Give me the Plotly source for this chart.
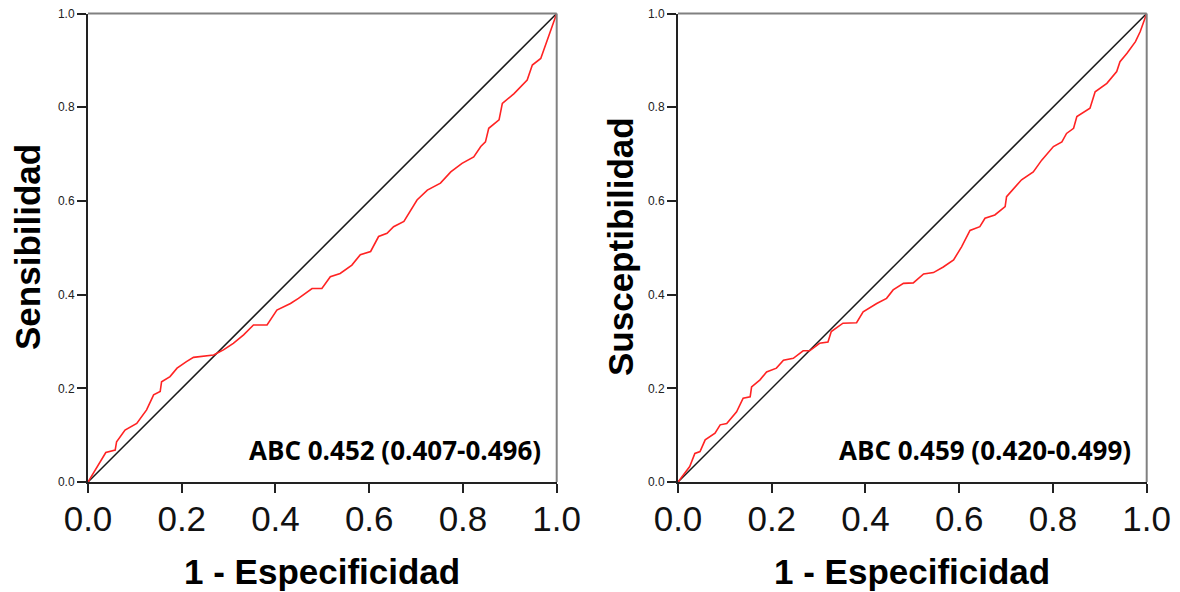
import plotly.graph_objects as go

# Left panel: 1 - Especificidad vs Sensibilidad
left_fpr = [0.0, 0.026, 0.038, 0.058, 0.061, 0.079, 0.104, 0.125, 0.14, 0.154, 0.157, 0.175,
            0.19, 0.21, 0.225, 0.268, 0.289, 0.31, 0.332, 0.353, 0.382, 0.403, 0.432, 0.449,
            0.478, 0.499, 0.517, 0.538, 0.563, 0.581, 0.603, 0.620, 0.638, 0.652, 0.674, 0.702,
            0.724, 0.752, 0.774, 0.798, 0.823, 0.838, 0.848, 0.855, 0.877, 0.884, 0.909, 0.937,
            0.948, 0.966, 0.980, 0.991, 1.0]
left_tpr = [0.0, 0.043, 0.063, 0.068, 0.086, 0.111, 0.125, 0.154, 0.186, 0.193, 0.214, 0.225,
            0.243, 0.257, 0.266, 0.271, 0.282, 0.296, 0.314, 0.335, 0.335, 0.367, 0.381, 0.392,
            0.413, 0.413, 0.438, 0.445, 0.463, 0.485, 0.492, 0.524, 0.531, 0.545, 0.556, 0.602,
            0.623, 0.638, 0.662, 0.680, 0.694, 0.716, 0.726, 0.755, 0.773, 0.808, 0.829, 0.858,
            0.890, 0.904, 0.943, 0.972, 1.0]

# Right panel: 1 - Especificidad vs Susceptibilidad
right_fpr = [0.0, 0.025, 0.036, 0.047, 0.058, 0.079, 0.09, 0.104, 0.125, 0.139, 0.154, 0.157,
             0.175, 0.189, 0.21, 0.225, 0.246, 0.267, 0.281, 0.302, 0.32, 0.327, 0.352, 0.381,
             0.395, 0.424, 0.445, 0.459, 0.481, 0.502, 0.524, 0.545, 0.566, 0.588, 0.605, 0.623,
             0.644, 0.655, 0.676, 0.698, 0.701, 0.733, 0.758, 0.776, 0.801, 0.819, 0.829, 0.844,
             0.851, 0.879, 0.890, 0.915, 0.936, 0.943, 0.958, 0.976, 0.986, 1.0]
right_tpr = [0.0, 0.033, 0.061, 0.065, 0.090, 0.104, 0.122, 0.125, 0.150, 0.179, 0.182, 0.203,
             0.218, 0.235, 0.243, 0.260, 0.264, 0.280, 0.280, 0.296, 0.299, 0.321, 0.339, 0.340,
             0.363, 0.381, 0.392, 0.410, 0.424, 0.425, 0.444, 0.447, 0.459, 0.474, 0.502, 0.537,
             0.545, 0.563, 0.570, 0.588, 0.609, 0.645, 0.662, 0.687, 0.716, 0.726, 0.744, 0.755,
             0.780, 0.798, 0.833, 0.851, 0.876, 0.897, 0.915, 0.940, 0.961, 1.0]

ref_line = [0.0, 1.0]
tick_vals = [0.0, 0.2, 0.4, 0.6, 0.8, 1.0]
tick_text = ["0.0", "0.2", "0.4", "0.6", "0.8", "1.0"]

y_titles = ["Sensibilidad", "Susceptibilidad"]
x_title = "1 - Especificidad"
abc_labels = ["ABC 0.452 (0.407-0.496)", "ABC 0.459 (0.420-0.499)"]

# page has an 8px body margin; figure is sized to fit inside the window
OFF = 8
W, H = 1180 - OFF, 592 - OFF


def px(p):
    return (p - OFF) / W


def py(p):
    return 1 - (p - OFF) / H


x_domains = [[px(88), px(556.7)], [px(678), px(1146.7)]]
y_domain = [py(482), py(13.5)]

fig = go.Figure()

panels = [(left_fpr, left_tpr), (right_fpr, right_tpr)]
for i, (fx, fy) in enumerate(panels):
    xa = "x" if i == 0 else "x2"
    ya = "y" if i == 0 else "y2"
    fig.add_trace(go.Scatter(x=ref_line, y=ref_line, mode="lines",
                             line=dict(color="#1a1a1a", width=1.5),
                             xaxis=xa, yaxis=ya, showlegend=False, hoverinfo="skip"))
    fig.add_trace(go.Scatter(x=fx, y=fy, mode="lines",
                             line=dict(color="rgb(255,35,35)", width=1.6),
                             xaxis=xa, yaxis=ya, showlegend=False))

axis_common = dict(range=[0, 1], showgrid=False, zeroline=False, showline=True,
                   linecolor="#222222", linewidth=2, ticks="outside", ticklen=9,
                   tickwidth=1.5, tickcolor="#222222", tickvals=tick_vals, ticktext=tick_text,
                   automargin=False, ticklabeloverflow="allow")

layout = dict(width=W, height=H, margin=dict(l=0, r=0, t=0, b=0, pad=0),
              paper_bgcolor="white", plot_bgcolor="white", showlegend=False,
              template="none")
for i in range(2):
    sx = "" if i == 0 else "2"
    layout["xaxis" + sx] = dict(axis_common, domain=x_domains[i],
                                anchor="y" + sx, ticklabelstandoff=-4,
                                tickfont=dict(family="Liberation Sans, Arial", size=35, color="#111111"))
    layout["yaxis" + sx] = dict(axis_common, domain=y_domain,
                                anchor="x" + sx,
                                tickfont=dict(family="Liberation Sans, Arial", size=12, color="#222222"))
fig.update_layout(**layout)

shapes = []
annotations = []
for i in range(2):
    sx = "" if i == 0 else "2"
    xd = "x" + sx + " domain"
    yd = "y" + sx + " domain"
    shapes.append(dict(type="line", xref=xd, yref=yd, x0=0, x1=1, y0=1, y1=1,
                       line=dict(color="#808080", width=2)))
    shapes.append(dict(type="line", xref=xd, yref=yd, x0=1, x1=1, y0=0, y1=1,
                       line=dict(color="#808080", width=2)))
    annotations.append(dict(text=abc_labels[i], xref=xd, yref=yd, x=0.97, y=0.025,
                            xanchor="right", yanchor="bottom", showarrow=False,
                            font=dict(family="Open Sans", size=26, color="black", weight="bold")))
    xc = (x_domains[i][0] + x_domains[i][1]) / 2
    annotations.append(dict(text="<b>" + x_title + "</b>", xref="paper", yref="paper",
                            x=xc, y=py(571), xanchor="center", yanchor="middle",
                            showarrow=False,
                            font=dict(family="Liberation Sans, Arial", size=35, color="black")))
    annotations.append(dict(text="<b>" + y_titles[i] + "</b>", xref="paper", yref="paper",
                            x=px(27 if i == 0 else 620), y=py(247),
                            xanchor="center", yanchor="middle", textangle=-90,
                            showarrow=False,
                            font=dict(family="Liberation Sans, Arial", size=35, color="black")))
fig.update_layout(shapes=shapes, annotations=annotations)

fig.write_html("out.html")
